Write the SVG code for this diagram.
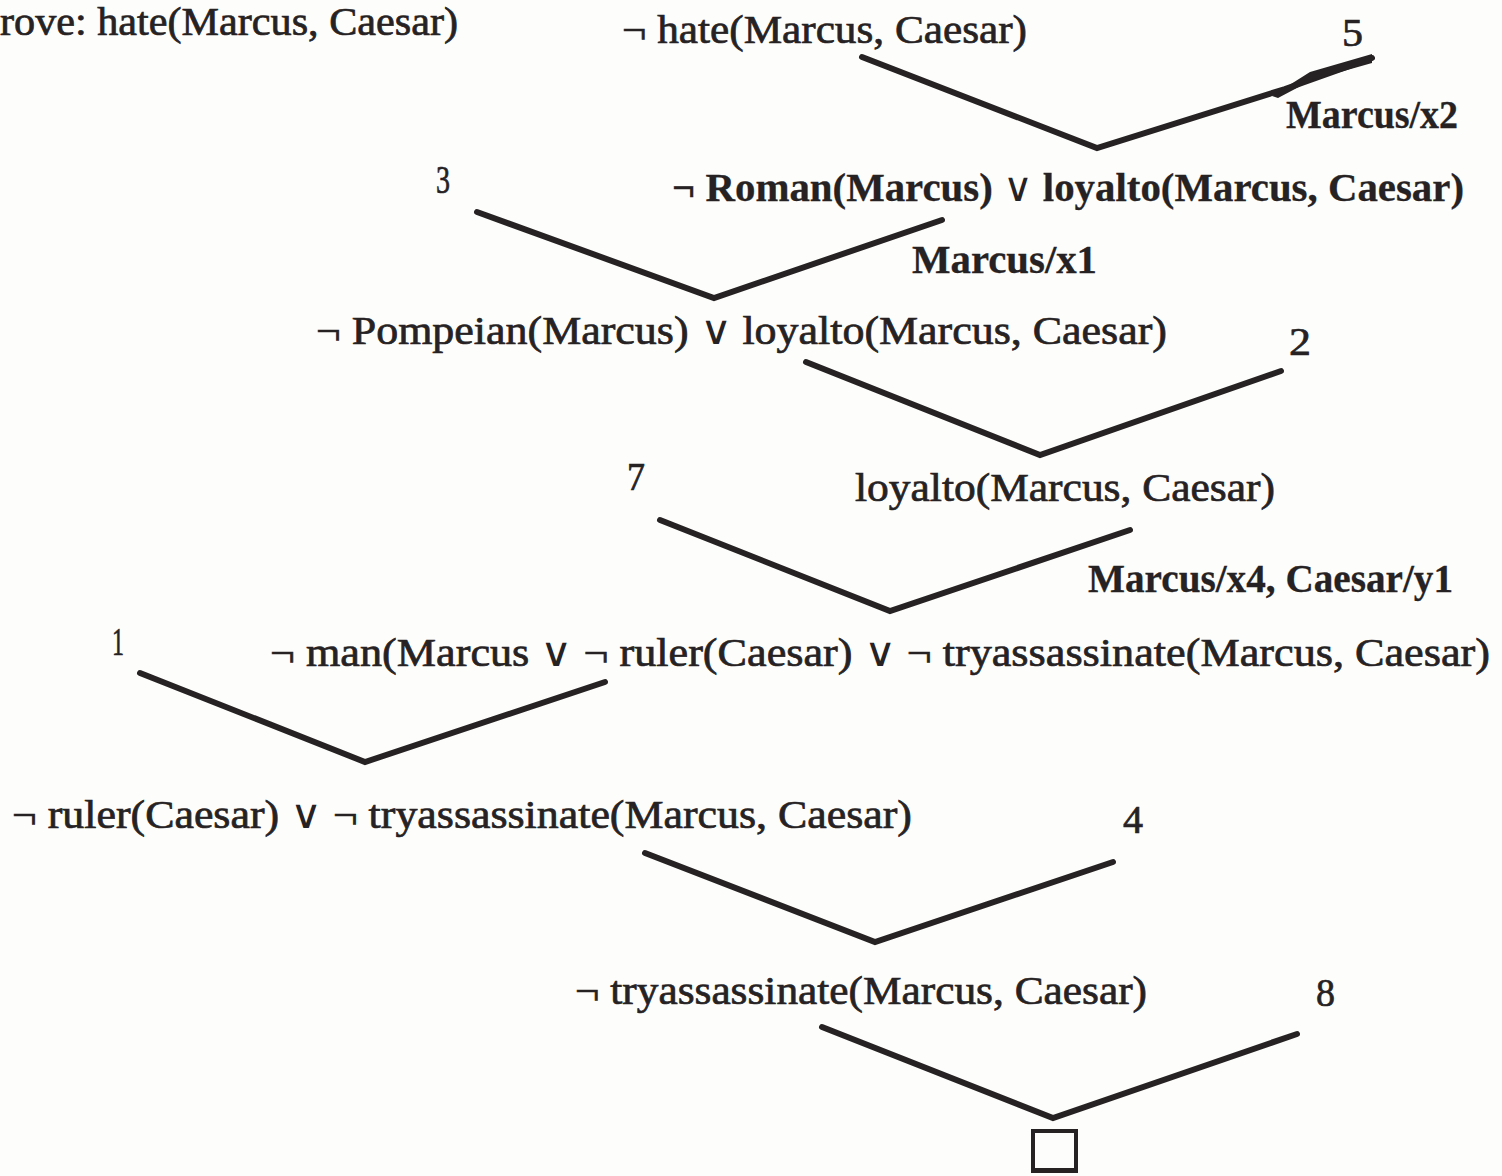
<svg xmlns="http://www.w3.org/2000/svg" width="1502" height="1176" viewBox="0 0 1502 1176">
<style>
.t{font-family:"Liberation Serif","Times New Roman",serif;font-size:40px;fill:#262223;stroke:#262223;stroke-width:0.7}
.b{font-weight:bold;stroke-width:0.3}
.v{font-weight:normal;stroke-width:0}
.e{fill:none;stroke:#262223;stroke-width:6;stroke-linecap:round;stroke-linejoin:miter}
</style>
<rect width="1502" height="1176" fill="#fdfdfb"/>
<g id="goal"><text class="t" x="0" y="35" textLength="458" lengthAdjust="spacingAndGlyphs">rove: hate(Marcus, Caesar)</text></g>
<g id="n1"><text class="t" x="622" y="43" textLength="405" lengthAdjust="spacingAndGlyphs">¬ hate(Marcus, Caesar)</text></g>
<g id="a5"><text class="t" x="1342" y="46" textLength="21" lengthAdjust="spacingAndGlyphs">5</text></g>
<g id="s1"><text class="t b" x="1286" y="128" textLength="172" lengthAdjust="spacingAndGlyphs">Marcus/x2</text></g>
<g id="a3"><text class="t" x="436" y="193" font-size="34" textLength="14" lengthAdjust="spacingAndGlyphs">3</text></g>
<g id="n2"><text class="t b" x="672" y="201" textLength="792" lengthAdjust="spacingAndGlyphs">¬ Roman(Marcus) <tspan class="v">∨</tspan> loyalto(Marcus, Caesar)</text></g>
<g id="s2"><text class="t b" x="912" y="273" textLength="185" lengthAdjust="spacingAndGlyphs">Marcus/x1</text></g>
<g id="n3"><text class="t" x="316" y="344" textLength="851" lengthAdjust="spacingAndGlyphs">¬ Pompeian(Marcus) <tspan class="v">∨</tspan> loyalto(Marcus, Caesar)</text></g>
<g id="a2"><text class="t" x="1289" y="355" textLength="22" lengthAdjust="spacingAndGlyphs">2</text></g>
<g id="a7"><text class="t" x="627" y="490" textLength="18" lengthAdjust="spacingAndGlyphs">7</text></g>
<g id="n4"><text class="t" x="855" y="501" textLength="420" lengthAdjust="spacingAndGlyphs">loyalto(Marcus, Caesar)</text></g>
<g id="s3"><text class="t b" x="1088" y="592" textLength="365" lengthAdjust="spacingAndGlyphs">Marcus/x4, Caesar/y1</text></g>
<g id="a1"><text class="t" x="112" y="655" textLength="12" lengthAdjust="spacingAndGlyphs">1</text></g>
<g id="n5"><text class="t" x="270" y="666" textLength="1220" lengthAdjust="spacingAndGlyphs">¬ man(Marcus <tspan class="v">∨</tspan> ¬ ruler(Caesar) <tspan class="v">∨</tspan> ¬ tryassassinate(Marcus, Caesar)</text></g>
<g id="n6"><text class="t" x="12" y="828" textLength="900" lengthAdjust="spacingAndGlyphs">¬ ruler(Caesar) <tspan class="v">∨</tspan> ¬ tryassassinate(Marcus, Caesar)</text></g>
<g id="a4"><text class="t" x="1123" y="833" textLength="20" lengthAdjust="spacingAndGlyphs">4</text></g>
<g id="n7"><text class="t" x="575" y="1004" textLength="572" lengthAdjust="spacingAndGlyphs">¬ tryassassinate(Marcus, Caesar)</text></g>
<g id="a8"><text class="t" x="1316" y="1006" textLength="19" lengthAdjust="spacingAndGlyphs">8</text></g>
<g id="empty"><rect x="1033" y="1131" width="43" height="40" fill="none" stroke="#262223" stroke-width="4"/><rect x="1033" y="1129" width="43" height="4" fill="#262223"/><rect x="1033" y="1168" width="43" height="4" fill="#262223"/></g>
<g id="connectors">
<polyline class="e" points="862,57 1097,148 1285,89 1372,58"/>
<path d="M1272,96 L1310,72 L1372,54 L1372,63 L1312,80 L1278,98 Z" fill="#262223"/>
<polyline class="e" points="477,212 714,298 942,220"/>
<polyline class="e" points="806,362 1040,455 1281,371"/>
<polyline class="e" points="660,520 890,611 1130,530"/>
<polyline class="e" points="140,673 365,762 605,682"/>
<polyline class="e" points="645,853 875,942 1113,862"/>
<polyline class="e" points="822,1027 1053,1118 1297,1034"/>
</g>
</svg>
